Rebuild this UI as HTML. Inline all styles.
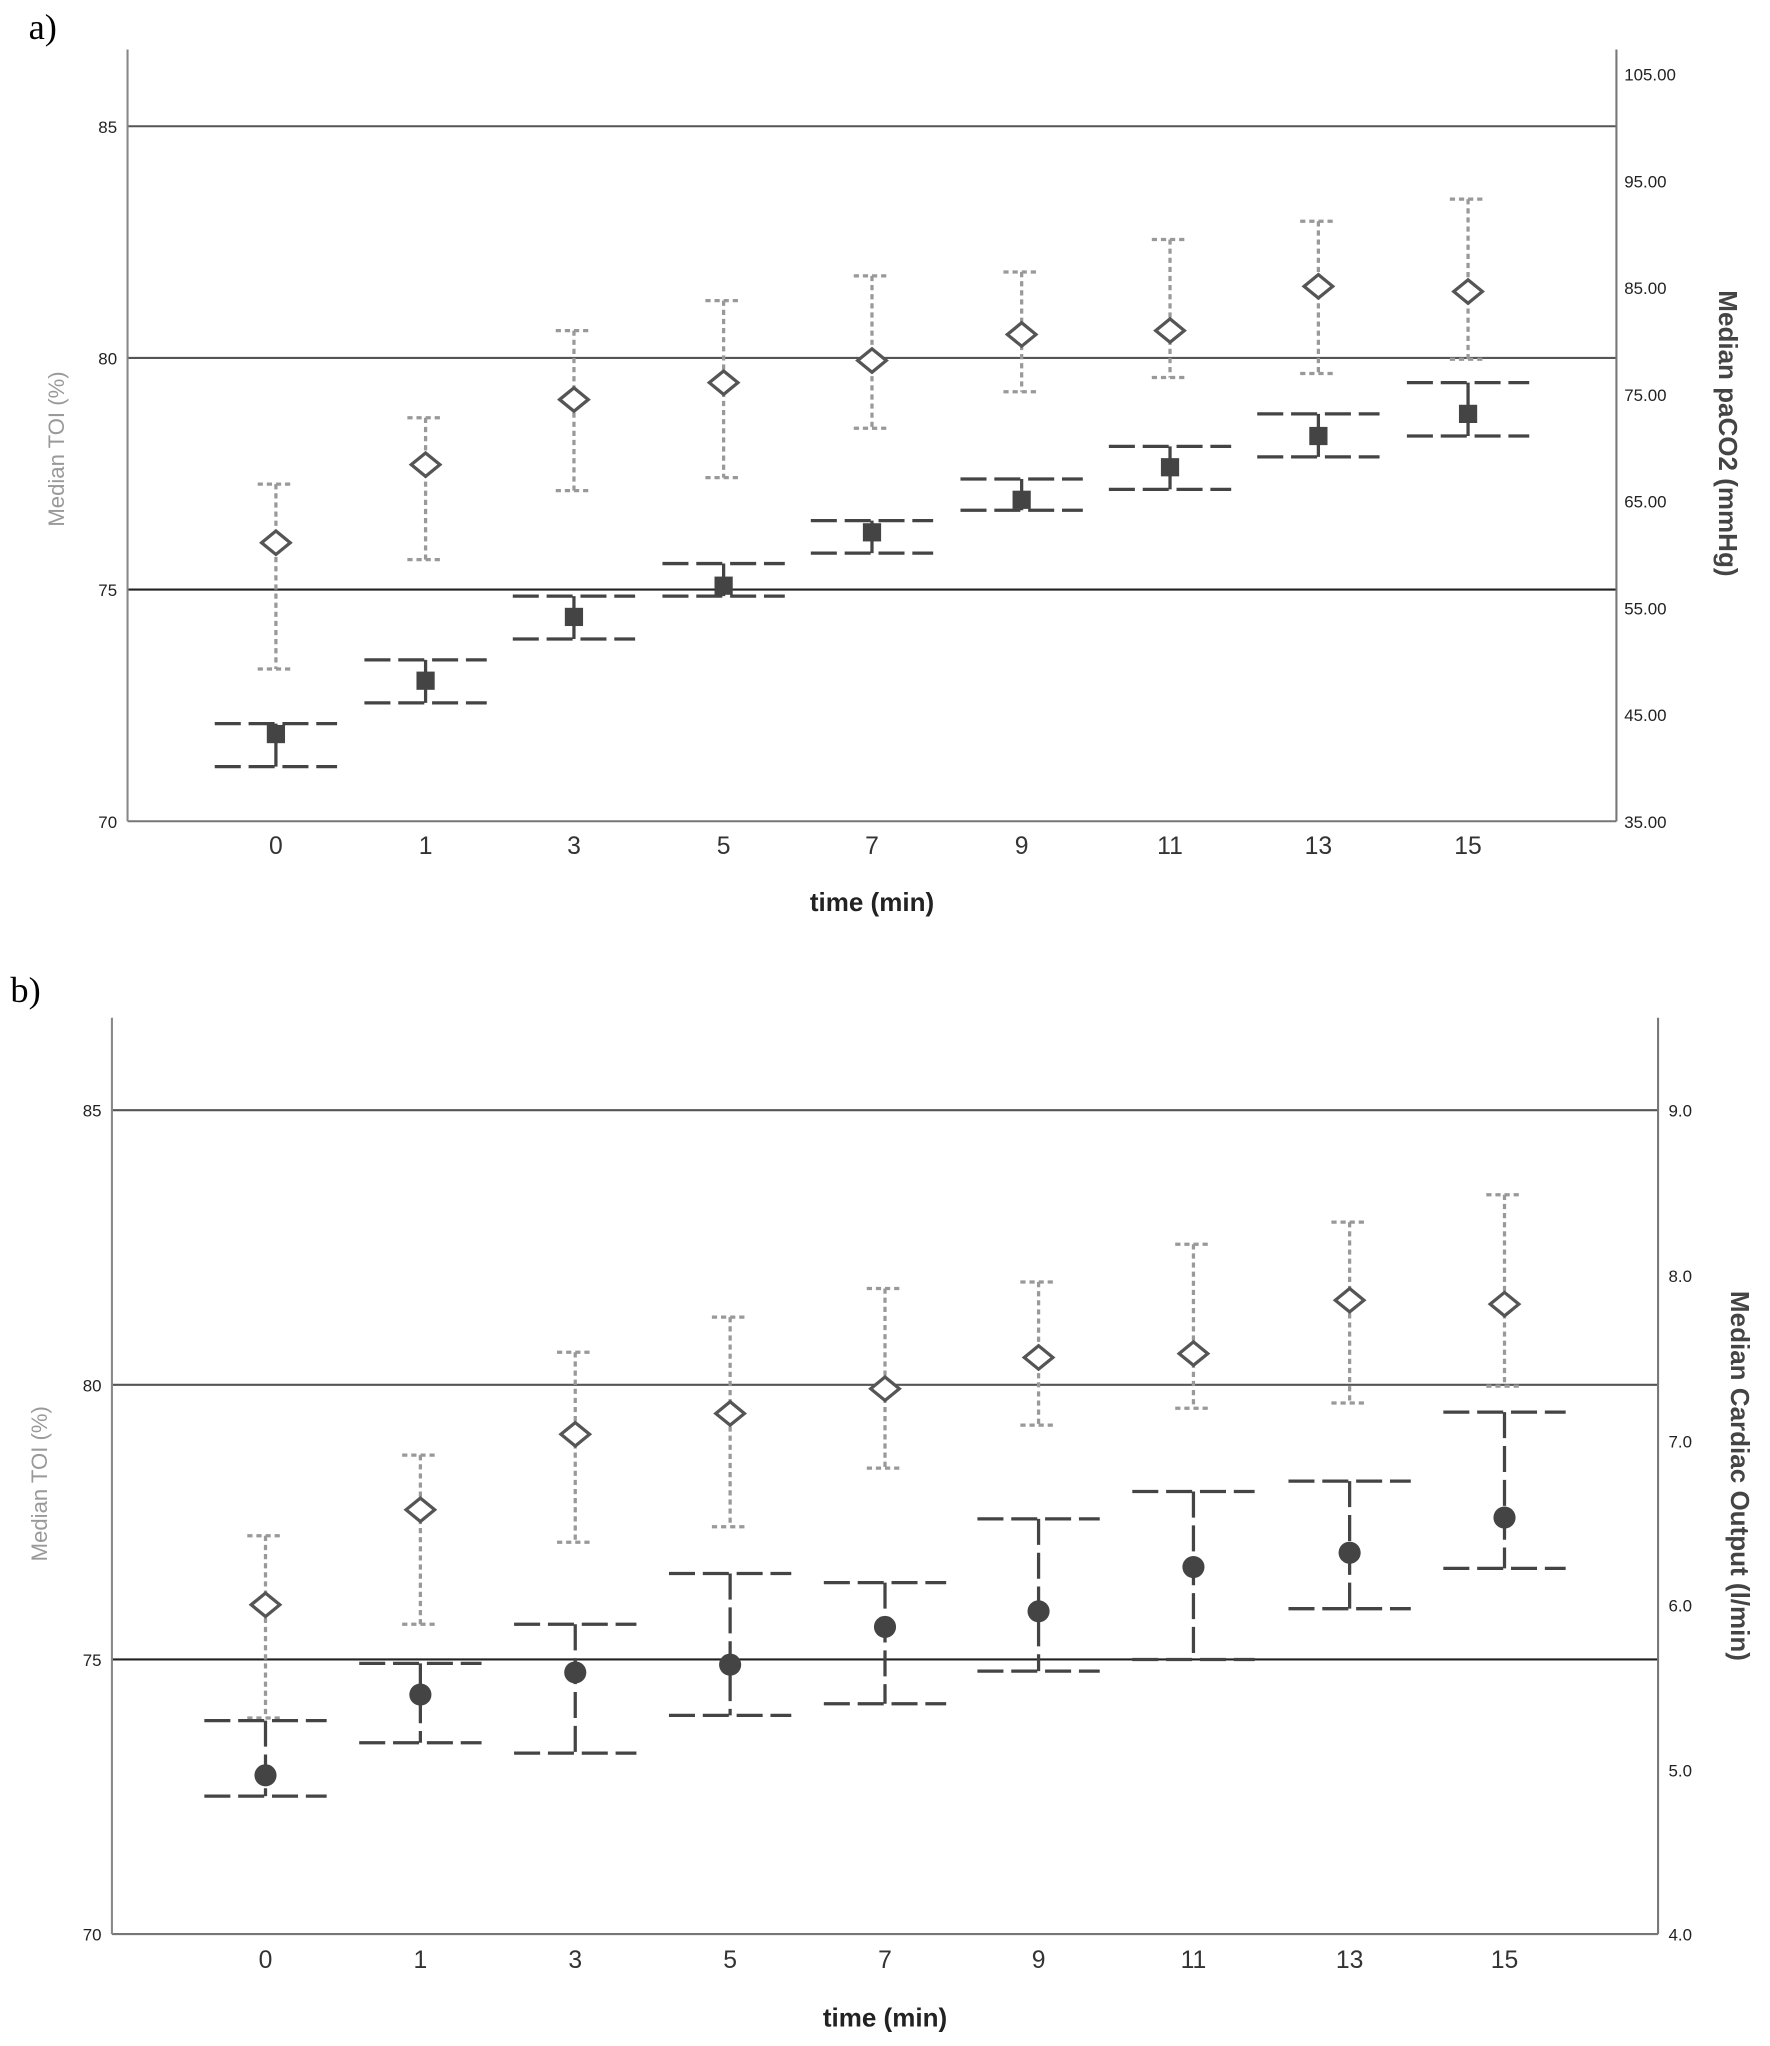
<!DOCTYPE html>
<html><head><meta charset="utf-8"><style>
html,body{margin:0;padding:0;background:#fff}
svg{display:block}
text{font-family:"Liberation Sans",sans-serif}
</style></head><body>
<svg width="1770" height="2046" viewBox="0 0 1360 1572" preserveAspectRatio="none" xmlns="http://www.w3.org/2000/svg">
<defs>
<g id="dia"><polygon points="-11,0 0,-9 11,0 0,9" fill="#fff" stroke="#555" stroke-width="2.5"/></g>
</defs>
<text x="22" y="30" font-family="Liberation Serif" font-size="28" style="font-family:'Liberation Serif',serif">a)</text>
<text x="8" y="770" font-size="28" style="font-family:'Liberation Serif',serif">b)</text>

<!-- Panel a -->
<g stroke="#555" stroke-width="1.6">
<line x1="98" y1="97" x2="1242" y2="97"/><line x1="98" y1="275" x2="1242" y2="275"/><line x1="98" y1="453" x2="1242" y2="453" stroke="#222"/>
<line x1="98" y1="631" x2="1242" y2="631" stroke="#777"/>
<line x1="98" y1="38" x2="98" y2="631" stroke="#888"/><line x1="1242" y1="38" x2="1242" y2="631" stroke="#777"/>
</g>
<g font-size="13" fill="#222" text-anchor="end">
<text x="90" y="102">85</text><text x="90" y="280">80</text><text x="90" y="458">75</text><text x="90" y="636">70</text>
</g>
<g font-size="13" fill="#222">
<text x="1248" y="62">105.00</text><text x="1248" y="144">95.00</text><text x="1248" y="226">85.00</text><text x="1248" y="308">75.00</text><text x="1248" y="390">65.00</text><text x="1248" y="472">55.00</text><text x="1248" y="554">45.00</text><text x="1248" y="636">35.00</text>
</g>
<g font-size="19" fill="#333" text-anchor="middle">
<text x="212" y="656">0</text><text x="327" y="656">1</text><text x="441" y="656">3</text><text x="556" y="656">5</text><text x="670" y="656">7</text><text x="785" y="656">9</text><text x="899" y="656">11</text><text x="1013" y="656">13</text><text x="1128" y="656">15</text>
</g>
<text x="670" y="700" font-size="20" font-weight="bold" fill="#222" text-anchor="middle">time (min)</text>
<text transform="translate(49,345) rotate(-90)" font-size="17" fill="#999" text-anchor="middle">Median TOI (%)</text>
<text transform="translate(1321,333) rotate(90)" font-size="20" font-weight="bold" fill="#444" text-anchor="middle">Median paCO2 (mmHg)</text>

<!-- a diamonds errorbars -->
<g stroke="#999" stroke-width="2.5" stroke-dasharray="4,3" fill="none">
<path d="M212 372V514M198 372H226M198 514H226"/>
<path d="M327 321V430M313 321H341M313 430H341"/>
<path d="M441 254V377M427 254H455M427 377H455"/>
<path d="M556 231V367M542 231H570M542 367H570"/>
<path d="M670 212V329M656 212H684M656 329H684"/>
<path d="M785 209V301M771 209H799M771 301H799"/>
<path d="M899 184V290M885 184H913M885 290H913"/>
<path d="M1013 170V287M999 170H1027M999 287H1027"/>
<path d="M1128 153V276M1114 153H1142M1114 276H1142"/>
</g>
<use href="#dia" x="212" y="417"/><use href="#dia" x="327" y="357"/><use href="#dia" x="441" y="307"/><use href="#dia" x="556" y="294"/><use href="#dia" x="670" y="277"/><use href="#dia" x="785" y="257"/><use href="#dia" x="899" y="254"/><use href="#dia" x="1013" y="220"/><use href="#dia" x="1128" y="224"/>
<!-- a squares -->
<g stroke="#444" stroke-width="2.5" fill="none">
<path d="M212 556V589M327 507V540M441 458V491M556 433V458M670 400V425M785 368V392M899 343V376M1013 318V351M1128 294V335"/>
</g>
<g stroke="#444" stroke-width="2.5" stroke-dasharray="20,6" fill="none">
<path d="M165 556H259M165 589H259M280 507H374M280 540H374M394 458H488M394 491H488M509 433H603M509 458H603M623 400H717M623 425H717M738 368H832M738 392H832M852 343H946M852 376H946M966 318H1060M966 351H1060M1081 294H1175M1081 335H1175"/>
</g>
<g fill="#444">
<rect x="205" y="557" width="14" height="14"/><rect x="320" y="516" width="14" height="14"/><rect x="434" y="467" width="14" height="14"/><rect x="549" y="443" width="14" height="14"/><rect x="663" y="402" width="14" height="14"/><rect x="778" y="377" width="14" height="14"/><rect x="892" y="352" width="14" height="14"/><rect x="1006" y="328" width="14" height="14"/><rect x="1121" y="311" width="14" height="14"/>
</g>

<!-- Panel b -->
<g stroke="#555" stroke-width="1.6">
<line x1="86" y1="853" x2="1274" y2="853"/><line x1="86" y1="1064" x2="1274" y2="1064"/><line x1="86" y1="1275" x2="1274" y2="1275" stroke="#222"/>
<line x1="86" y1="1486" x2="1274" y2="1486" stroke="#777"/>
<line x1="86" y1="782" x2="86" y2="1486" stroke="#888"/><line x1="1274" y1="782" x2="1274" y2="1486" stroke="#777"/>
</g>
<g font-size="13" fill="#222" text-anchor="end">
<text x="78" y="858">85</text><text x="78" y="1069">80</text><text x="78" y="1280">75</text><text x="78" y="1491">70</text>
</g>
<g font-size="13" fill="#222">
<text x="1282" y="858">9.0</text><text x="1282" y="985">8.0</text><text x="1282" y="1112">7.0</text><text x="1282" y="1238">6.0</text><text x="1282" y="1365">5.0</text><text x="1282" y="1491">4.0</text>
</g>
<g font-size="19" fill="#333" text-anchor="middle">
<text x="204" y="1512">0</text><text x="323" y="1512">1</text><text x="442" y="1512">3</text><text x="561" y="1512">5</text><text x="680" y="1512">7</text><text x="798" y="1512">9</text><text x="917" y="1512">11</text><text x="1037" y="1512">13</text><text x="1156" y="1512">15</text>
</g>
<text x="680" y="1557" font-size="20" font-weight="bold" fill="#222" text-anchor="middle">time (min)</text>
<text transform="translate(36,1140) rotate(-90)" font-size="17" fill="#999" text-anchor="middle">Median TOI (%)</text>
<text transform="translate(1330,1134) rotate(90)" font-size="20" font-weight="bold" fill="#444" text-anchor="middle">Median Cardiac Output (l/min)</text>

<g stroke="#999" stroke-width="2.5" stroke-dasharray="4,3" fill="none">
<path d="M204 1180V1320M190 1180H218M190 1320H218"/>
<path d="M323 1118V1248M309 1118H337M309 1248H337"/>
<path d="M442 1039V1185M428 1039H456M428 1185H456"/>
<path d="M561 1012V1173M547 1012H575M547 1173H575"/>
<path d="M680 990V1128M666 990H694M666 1128H694"/>
<path d="M798 985V1095M784 985H812M784 1095H812"/>
<path d="M917 956V1082M903 956H931M903 1082H931"/>
<path d="M1037 939V1078M1023 939H1051M1023 1078H1051"/>
<path d="M1156 918V1065M1142 918H1170M1142 1065H1170"/>
</g>
<use href="#dia" x="204" y="1233"/><use href="#dia" x="323" y="1160"/><use href="#dia" x="442" y="1102"/><use href="#dia" x="561" y="1086"/><use href="#dia" x="680" y="1067"/><use href="#dia" x="798" y="1043"/><use href="#dia" x="917" y="1040"/><use href="#dia" x="1037" y="999"/><use href="#dia" x="1156" y="1002"/>
<g stroke="#444" stroke-width="2.5" stroke-dasharray="20,6" fill="none">
<path d="M204 1322V1380M323 1278V1339M442 1248V1347M561 1209V1318M680 1216V1309M798 1167V1284M917 1146V1275M1037 1138V1236M1156 1085V1205"/>
<path d="M157 1322H251M157 1380H251M276 1278H370M276 1339H370M395 1248H489M395 1347H489M514 1209H608M514 1318H608M633 1216H727M633 1309H727M751 1167H845M751 1284H845M870 1146H964M870 1275H964M990 1138H1084M990 1236H1084M1109 1085H1203M1109 1205H1203"/>
</g>
<g fill="#444">
<circle cx="204" cy="1364" r="8.5"/><circle cx="323" cy="1302" r="8.5"/><circle cx="442" cy="1285" r="8.5"/><circle cx="561" cy="1279" r="8.5"/><circle cx="680" cy="1250" r="8.5"/><circle cx="798" cy="1238" r="8.5"/><circle cx="917" cy="1204" r="8.5"/><circle cx="1037" cy="1193" r="8.5"/><circle cx="1156" cy="1166" r="8.5"/>
</g>
</svg>
</body></html>
